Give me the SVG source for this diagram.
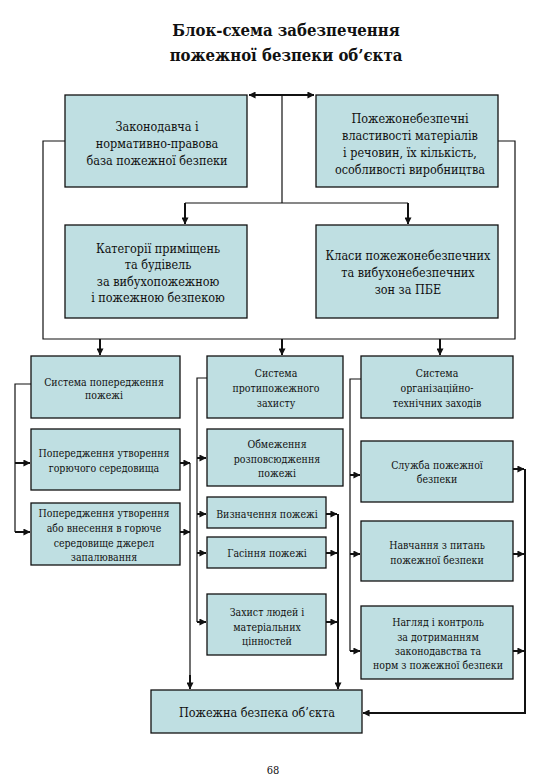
<svg xmlns="http://www.w3.org/2000/svg" width="540" height="780" viewBox="0 0 540 780">
<style>
.box{fill:#bfdfe2;stroke:#111;stroke-width:1.3}
.t{fill:#111;text-anchor:middle}
.t14{font-size:12.5px}
.t12{font-size:10.5px}
.title{font-weight:bold;font-size:16.6px;text-anchor:middle;fill:#111}
.thin{fill:none;stroke:#111;stroke-width:1.2}
.thick{fill:none;stroke:#111;stroke-width:2}
</style>
<defs>
<marker id="ah" viewBox="0 0 8 8" refX="7.5" refY="4" markerWidth="7" markerHeight="7" markerUnits="userSpaceOnUse" orient="auto-start-reverse">
<path d="M0,0 L8,4 L0,8 Z" fill="#111"/>
</marker>
</defs>
<rect width="540" height="780" fill="#fff"/>
<g id="title" font-family="DejaVu Serif Condensed, DejaVu Serif, serif" font-stretch="condensed">
<text class="title" x="286" y="36">Блок-схема забезпечення</text>
<text class="title" x="286" y="61">пожежної безпеки об’єкта</text>
</g>
<g id="connectors">
<path class="thick" d="M249,95 H314" marker-start="url(#ah)" marker-end="url(#ah)"/>
<path class="thin" d="M282,95 V203"/>
<path class="thin" d="M185,203 H408"/>
<path class="thick" d="M185,203 V224" marker-end="url(#ah)"/>
<path class="thick" d="M408,203 V224" marker-end="url(#ah)"/>
<path class="thin" d="M65,141 H43 V339 H515 V141 H498"/>
<path class="thick" d="M100,339 V355" marker-end="url(#ah)"/>
<path class="thick" d="M282,339 V355" marker-end="url(#ah)"/>
<path class="thick" d="M440,339 V355" marker-end="url(#ah)"/>
<path class="thin" d="M31,384 H15 V532"/>
<path class="thick" d="M15,463 H30" marker-end="url(#ah)"/>
<path class="thick" d="M15,532 H30" marker-end="url(#ah)"/>
<path class="thick" d="M180,463 H190" marker-end="url(#ah)"/>
<path class="thick" d="M180,532 H190" marker-end="url(#ah)"/>
<path class="thin" d="M190,463 V680"/>
<path class="thick" d="M190,675 V689" marker-end="url(#ah)"/>
<path class="thin" d="M207,378 H197 V622"/>
<path class="thick" d="M197,458 H206" marker-end="url(#ah)"/>
<path class="thick" d="M197,514 H206" marker-end="url(#ah)"/>
<path class="thick" d="M197,553 H206" marker-end="url(#ah)"/>
<path class="thick" d="M197,622 H206" marker-end="url(#ah)"/>
<path class="thick" d="M326,514 H337" marker-end="url(#ah)"/>
<path class="thick" d="M326,553 H337" marker-end="url(#ah)"/>
<path class="thick" d="M326,622 H337" marker-end="url(#ah)"/>
<path class="thick" d="M338,514 V689" marker-end="url(#ah)"/>
<path class="thin" d="M361,379 H350 V651"/>
<path class="thick" d="M350,475 H360" marker-end="url(#ah)"/>
<path class="thick" d="M350,554 H360" marker-end="url(#ah)"/>
<path class="thick" d="M350,651 H360" marker-end="url(#ah)"/>
<path class="thick" d="M513,469 H524" marker-end="url(#ah)"/>
<path class="thick" d="M513,554 H524" marker-end="url(#ah)"/>
<path class="thick" d="M513,651 H524" marker-end="url(#ah)"/>
<path class="thick" d="M525,469 V713 H363" marker-end="url(#ah)"/>
</g>
<g id="nodes" font-family="DejaVu Serif Condensed, DejaVu Serif, serif" font-stretch="condensed">
<g id="n-zakonodavcha">
<rect class="box" x="65" y="95" width="182" height="92"/>
<text class="t t14" x="157" y="131">Законодавча і</text>
<text class="t t14" x="157" y="148">нормативно-правова</text>
<text class="t t14" x="157" y="165">база пожежної безпеки</text>
</g>
<g id="n-vlastyvosti">
<rect class="box" x="316" y="95" width="182" height="92"/>
<text class="t t14" x="410" y="123">Пожежонебезпечні</text>
<text class="t t14" x="410" y="140">властивості матеріалів</text>
<text class="t t14" x="410" y="157">і речовин, їх кількість,</text>
<text class="t t14" x="410" y="174">особливості виробництва</text>
</g>
<g id="n-katehorii">
<rect class="box" x="65" y="225" width="182" height="93"/>
<text class="t t14" x="158" y="253">Категорії приміщень</text>
<text class="t t14" x="158" y="269">та будівель</text>
<text class="t t14" x="158" y="286">за вибухопожежною</text>
<text class="t t14" x="158" y="302">і пожежною безпекою</text>
</g>
<g id="n-klasy">
<rect class="box" x="316" y="225" width="182" height="93"/>
<text class="t t14" x="408" y="260">Класи пожежонебезпечних</text>
<text class="t t14" x="408" y="277">та вибухонебезпечних</text>
<text class="t t14" x="408" y="294">зон за ПБЕ</text>
</g>
<g id="n-systema-poperedzhennia">
<rect class="box" x="31" y="356" width="149" height="62"/>
<text class="t t12" x="104" y="386">Система попередження</text>
<text class="t t12" x="104" y="399">пожежі</text>
</g>
<g id="n-systema-protypozhezhnoho">
<rect class="box" x="207" y="356" width="136" height="62"/>
<text class="t t12" x="276" y="377">Система</text>
<text class="t t12" x="276" y="392">протипожежного</text>
<text class="t t12" x="276" y="407">захисту</text>
</g>
<g id="n-systema-orhanizatsiino">
<rect class="box" x="361" y="356" width="152" height="62"/>
<text class="t t12" x="437" y="377">Система</text>
<text class="t t12" x="437" y="392">організаційно-</text>
<text class="t t12" x="437" y="407">технічних заходів</text>
</g>
<g id="n-horiuchoho">
<rect class="box" x="31" y="429" width="149" height="61"/>
<text class="t t12" x="104" y="457">Попередження утворення</text>
<text class="t t12" x="104" y="472">горючого середовища</text>
</g>
<g id="n-dzherel">
<rect class="box" x="31" y="503" width="149" height="62"/>
<text class="t t12" x="104" y="517">Попередження утворення</text>
<text class="t t12" x="104" y="532">або внесення в горюче</text>
<text class="t t12" x="104" y="547">середовище джерел</text>
<text class="t t12" x="104" y="561">запалювання</text>
</g>
<g id="n-obmezhennia">
<rect class="box" x="207" y="429" width="136" height="57"/>
<text class="t t12" x="277" y="448">Обмеження</text>
<text class="t t12" x="277" y="463">розповсюдження</text>
<text class="t t12" x="277" y="477">пожежі</text>
</g>
<g id="n-vyznachennia">
<rect class="box" x="207" y="497" width="119" height="31"/>
<text class="t t12" x="267" y="518">Визначення пожежі</text>
</g>
<g id="n-hasinnia">
<rect class="box" x="207" y="537" width="119" height="31"/>
<text class="t t12" x="267" y="557">Гасіння пожежі</text>
</g>
<g id="n-zakhyst">
<rect class="box" x="207" y="594" width="119" height="61"/>
<text class="t t12" x="267" y="616">Захист людей і</text>
<text class="t t12" x="267" y="631">матеріальних</text>
<text class="t t12" x="267" y="645">цінностей</text>
</g>
<g id="n-sluzhba">
<rect class="box" x="361" y="441" width="152" height="61"/>
<text class="t t12" x="437" y="469">Служба пожежної</text>
<text class="t t12" x="437" y="483">безпеки</text>
</g>
<g id="n-navchannia">
<rect class="box" x="361" y="521" width="152" height="60"/>
<text class="t t12" x="437" y="549">Навчання з питань</text>
<text class="t t12" x="437" y="564">пожежної безпеки</text>
</g>
<g id="n-nahliad">
<rect class="box" x="361" y="606" width="152" height="73"/>
<text class="t t12" x="438" y="626">Нагляд і контроль</text>
<text class="t t12" x="438" y="641">за дотриманням</text>
<text class="t t12" x="438" y="655">законодавства та</text>
<text class="t t12" x="438" y="669">норм з пожежної безпеки</text>
</g>
<g id="n-pozhezhna-bezpeka">
<rect class="box" x="151" y="690" width="211" height="43"/>
<text class="t t14" x="257" y="717">Пожежна безпека об’єкта</text>
</g>
</g>
<g id="page" font-family="DejaVu Serif Condensed, DejaVu Serif, serif" font-stretch="condensed">
<text class="t" font-size="11" x="273" y="774">68</text>
</g>
</svg>
